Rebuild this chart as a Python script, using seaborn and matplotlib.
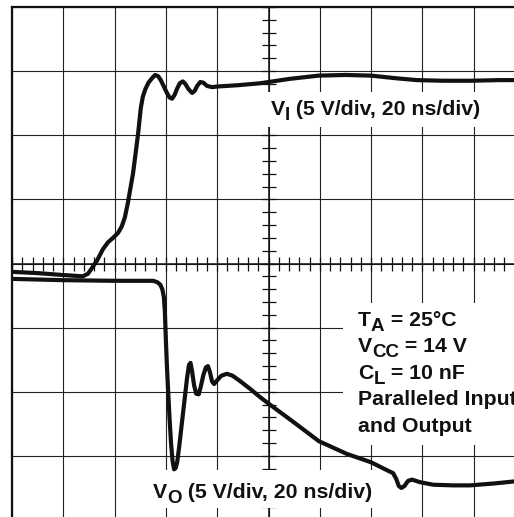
import pandas as pd
import seaborn as sns
import matplotlib.pyplot as plt
from matplotlib.patches import Rectangle
from matplotlib.ticker import MultipleLocator

# scope screen: 20 ns/div, 5 V/div, 10 x 8 divisions, centre at 0 V
vi_time = [0, 10, 20, 27.6, 29.6, 31.2, 33.2, 35.4, 37.4, 39.4, 41.4, 42.8, 44, 45.2,
           46.2, 47.2, 48.2, 49.2, 50.2, 51, 52, 53.2, 54.6, 55.8, 57, 58, 59.2, 60.4,
           61.4, 62.4, 63.4, 64.4, 65.4, 66.6, 67.6, 68.8, 70.2, 71.2, 72.2, 73.4, 74.6,
           76, 78, 80, 88, 96.6, 108.4, 119.6, 130, 140, 149.4, 157.8, 168, 179, 190, 200]
vi_volts = [-0.65, -0.75, -0.9, -1.0, -0.8, -0.35, 0.25, 1.1, 1.65, 2.0, 2.4, 2.9, 3.6, 4.75,
            5.9, 7.05, 8.6, 10.2, 12.1, 13.0, 13.6, 14.1, 14.45, 14.7, 14.6, 14.3, 13.8, 13.3,
            12.95, 12.85, 13.15, 13.65, 14.05, 14.2, 14.0, 13.6, 13.3, 13.45, 13.85, 14.15, 14.1,
            13.85, 13.75, 13.8, 13.9, 14.05, 14.4, 14.65, 14.7, 14.65, 14.45, 14.3, 14.25, 14.25, 14.3, 14.3]

vo_time = [0, 20, 40, 55, 56.6, 57.8, 58.6, 59.2, 59.6, 60, 60.4, 60.8, 61.4, 62,
           62.6, 63.2, 63.8, 64.4, 65.2, 66.2, 67.2, 68.2, 69, 69.6, 70.2, 71, 71.8, 72.8,
           73.6, 74.6, 75.6, 76.4, 77.2, 78, 78.8, 80, 81.6, 83.8, 86, 88.8, 93, 96.6,
           100.2, 110, 119.6, 130.6, 140, 146, 148.6, 149.8, 150.8, 151.8, 153, 154.4, 156,
           159, 164.2, 172, 178.6, 188, 195.4, 200]
vo_volts = [-1.2, -1.3, -1.35, -1.35, -1.45, -1.65, -2.0, -2.6, -3.75, -6.0, -8.0, -9.65, -12.0, -14.0,
            -15.4, -16.05, -15.95, -15.5, -14.25, -12.5, -10.75, -9.0, -7.9, -7.75, -8.4, -9.5, -10.15, -10.2,
            -9.6, -8.7, -8.1, -8.0, -8.5, -9.2, -9.4, -9.1, -8.75, -8.6, -8.75, -9.15, -9.8, -10.4,
            -10.95, -12.4, -13.85, -14.85, -15.5, -16.1, -16.35, -16.8, -17.35, -17.5, -17.35, -16.95, -16.85,
            -17.05, -17.25, -17.3, -17.3, -17.15, -17.0, -16.95]

vi_label = ["V", "I", " (5 V/div, 20 ns/div)"]
vo_label = ["V", "O", " (5 V/div, 20 ns/div)"]
conditions = [
    ["T", "A", " = 25°C"],
    ["V", "CC", " = 14 V"],
    ["C", "L", " = 10 nF"],
    ["Paralleled Input"],
    ["and Output"],
]

INK = "#111111"


def sub_label(ax, x, y, parts, size=15.3, sub_size=13.5, drop=3.8):
    prev = ax.text(x, y, parts[0], fontsize=size, fontweight="bold", color=INK,
                   va="baseline", ha="left", zorder=4)
    for i, s in enumerate(parts[1:], start=1):
        is_sub = i % 2 == 1
        prev = ax.annotate(s, xy=(1, y), xycoords=(prev, "data"),
                           xytext=(0, -drop if is_sub else 0), textcoords="offset points",
                           fontsize=sub_size if is_sub else size, fontweight="bold", color=INK,
                           va="baseline", ha="left", zorder=4)


def main():
    sns.set_style("white")
    plt.rcParams["font.family"] = ["Liberation Sans", "DejaVu Sans"]

    df_i = pd.DataFrame({"t": vi_time, "v": vi_volts})
    df_o = pd.DataFrame({"t": vo_time, "v": vo_volts})

    fig = plt.figure(figsize=(5.14, 5.17), dpi=100)
    ax = fig.add_axes([12 / 514, -3 / 517, 513 / 514, 513 / 517])

    for d in (df_i, df_o):
        sns.lineplot(data=d, x="t", y="v", ax=ax, color=INK, lw=3.0, sort=False,
                     estimator=None, zorder=3, solid_joinstyle="round", solid_capstyle="round")

    ax.set_xlim(0, 200)
    ax.set_ylim(-20, 20)
    ax.set(xlabel=None, ylabel=None)

    ax.xaxis.set_major_locator(MultipleLocator(20))
    ax.yaxis.set_major_locator(MultipleLocator(5))
    ax.xaxis.set_minor_locator(MultipleLocator(4))
    ax.yaxis.set_minor_locator(MultipleLocator(1))
    ax.grid(True, which="major", color="#222222", lw=0.8)

    # border on left/top, centre graticule lines with ticks
    for s in ("left", "top"):
        ax.spines[s].set_linewidth(1.6)
        ax.spines[s].set_color(INK)
    ax.spines["right"].set_position(("data", 100))
    ax.spines["bottom"].set_position(("data", 0))
    for s in ("right", "bottom"):
        ax.spines[s].set_linewidth(1.1)
        ax.spines[s].set_color(INK)
    ax.yaxis.set_ticks_position("right")
    ax.xaxis.set_ticks_position("bottom")
    ax.tick_params(which="both", direction="inout", length=10, width=0.9, color=INK,
                   labelbottom=False, labelright=False, labelleft=False, labeltop=False)

    # white backing behind the labels
    for x0, x1, y0, y1 in [(97.5, 186.4, 10.65, 13.38), (53, 142, -19.07, -16.1),
                           (129, 205, -14.16, -3.08)]:
        ax.add_patch(Rectangle((x0, y0), x1 - x0, y1 - y0, facecolor="white",
                               edgecolor="none", zorder=2.7, clip_on=False))

    sub_label(ax, 101, 11.58, vi_label)
    sub_label(ax, 55, -18.29, vo_label)
    for parts, yb in zip(conditions, [-4.875, -6.90, -9.01, -11.04, -13.14]):
        sub_label(ax, 134.9, yb, parts)

    fig.savefig("out.png", dpi=100, facecolor="white")
    plt.close(fig)


if __name__ == "__main__":
    main()
